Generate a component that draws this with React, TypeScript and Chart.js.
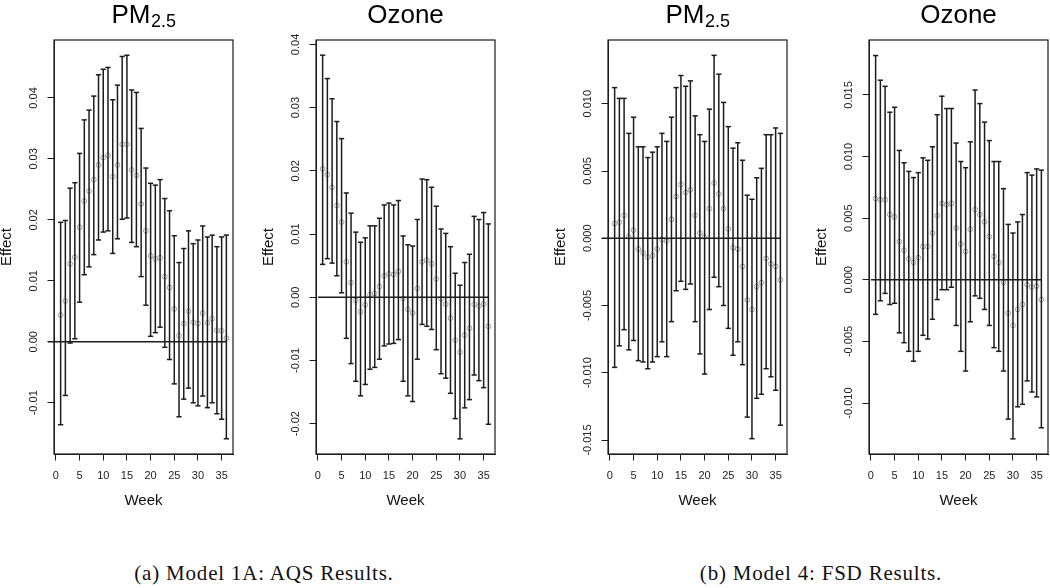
import React, { useEffect, useRef } from "react";
import { Chart, registerables } from "chart.js";

Chart.register(...registerables);

const WEEKS = [1, 2, 3, 4, 5, 6, 7, 8, 9, 10, 11, 12, 13, 14, 15, 16, 17, 18, 19, 20, 21, 22, 23, 24, 25, 26, 27, 28, 29, 30, 31, 32, 33, 34, 35, 36];
const X_TICKS = [0, 5, 10, 15, 20, 25, 30, 35];
const X_TICK_LABELS = ["0", "5", "10", "15", "20", "25", "30", "35"];

// (a) Model 1A: AQS — PM2.5
const AQS_PM_EST = [0.0044, 0.0067, 0.0128, 0.0139, 0.0188, 0.0231, 0.0247, 0.0266, 0.029, 0.0302, 0.0306, 0.0271, 0.029, 0.0324, 0.0324, 0.0282, 0.0273, 0.0226, 0.0182, 0.0141, 0.0136, 0.0138, 0.0107, 0.0089, 0.0054, 0.001, 0.003, 0.005, 0.0032, 0.003, 0.0047, 0.0031, 0.0038, 0.0019, 0.0018, 0.0006];
const AQS_PM_HI = [0.0196, 0.0199, 0.0252, 0.0261, 0.0309, 0.0364, 0.038, 0.0403, 0.0438, 0.0447, 0.045, 0.0397, 0.0421, 0.0468, 0.047, 0.0413, 0.0409, 0.035, 0.0285, 0.026, 0.0257, 0.0266, 0.0235, 0.0215, 0.0174, 0.013, 0.0153, 0.0182, 0.0161, 0.0167, 0.019, 0.0172, 0.0175, 0.0156, 0.0172, 0.0175];
const AQS_PM_LO = [-0.0136, -0.0088, -0.0002, 0.0005, 0.0065, 0.011, 0.0123, 0.0143, 0.0167, 0.018, 0.0182, 0.0145, 0.0169, 0.0201, 0.0203, 0.0163, 0.0156, 0.0107, 0.006, 0.0009, 0.0015, 0.0024, -0.0009, -0.0029, -0.0069, -0.0123, -0.0094, -0.0076, -0.01, -0.0105, -0.0089, -0.0108, -0.01, -0.0118, -0.0127, -0.0159];
const AQS_PM_YTICKS = [-0.01, 0, 0.01, 0.02, 0.03, 0.04];
const AQS_PM_YLABELS = ["-0.01", "0.00", "0.01", "0.02", "0.03", "0.04"];

// (a) Model 1A: AQS — Ozone
const AQS_OZ_EST = [0.0203, 0.0194, 0.0174, 0.0145, 0.0119, 0.0056, 0.0023, -0.0005, -0.0023, -0.0012, 0.0004, 0.0006, 0.0017, 0.0034, 0.0037, 0.0036, 0.0041, -0.0002, -0.0019, -0.0025, 0.0014, 0.0056, 0.0059, 0.0053, 0.0029, -0.0002, -0.0011, -0.0033, -0.0068, -0.0087, -0.006, -0.0049, -0.0011, -0.0014, -0.0011, -0.0046];
const AQS_OZ_HI = [0.0383, 0.0346, 0.0314, 0.0278, 0.0251, 0.0165, 0.0133, 0.0103, 0.0087, 0.0094, 0.0113, 0.0113, 0.0125, 0.0146, 0.0149, 0.0146, 0.0153, 0.0097, 0.0083, 0.0081, 0.0123, 0.0187, 0.0186, 0.0174, 0.0144, 0.0108, 0.0101, 0.008, 0.0038, 0.0019, 0.0055, 0.0068, 0.0128, 0.0123, 0.0134, 0.0116];
const AQS_OZ_LO = [0.0052, 0.0061, 0.0054, 0.0034, 0.0007, -0.0065, -0.0105, -0.0133, -0.0156, -0.0138, -0.0114, -0.0111, -0.0098, -0.0077, -0.0074, -0.0073, -0.0067, -0.0133, -0.0156, -0.0165, -0.0098, -0.0043, -0.0046, -0.0051, -0.0083, -0.0121, -0.0128, -0.0152, -0.0192, -0.0224, -0.0175, -0.0162, -0.0123, -0.0132, -0.0143, -0.0201];
const AQS_OZ_YTICKS = [-0.02, -0.01, 0, 0.01, 0.02, 0.03, 0.04];
const AQS_OZ_YLABELS = ["-0.02", "-0.01", "0.00", "0.01", "0.02", "0.03", "0.04"];

// (b) Model 4: FSD — PM2.5
const FSD_PM_EST = [0.0011, 0.0012, 0.0017, 0.0001, 0.0006, -0.0008, -0.0011, -0.0014, -0.0013, -0.0008, -0.0001, -0.0002, 0.0014, 0.0031, 0.004, 0.0034, 0.0036, 0.0017, 0.0004, 0.0001, 0.0022, 0.0041, 0.0033, 0.0022, 0.0007, -0.0007, -0.0008, -0.0021, -0.0046, -0.0053, -0.0036, -0.0033, -0.0015, -0.0019, -0.0021, -0.0031];
const FSD_PM_HI = [0.0112, 0.0104, 0.0104, 0.0078, 0.009, 0.0068, 0.0068, 0.006, 0.0064, 0.0068, 0.0078, 0.0072, 0.009, 0.0112, 0.0121, 0.0113, 0.0117, 0.0091, 0.0077, 0.0072, 0.0096, 0.0136, 0.0122, 0.0101, 0.0083, 0.0067, 0.0071, 0.0058, 0.0032, 0.0029, 0.0045, 0.0052, 0.0077, 0.0077, 0.0082, 0.0078];
const FSD_PM_LO = [-0.0096, -0.008, -0.0068, -0.0083, -0.0076, -0.0091, -0.0092, -0.0097, -0.0092, -0.0088, -0.0077, -0.0088, -0.0062, -0.0039, -0.0032, -0.0038, -0.0034, -0.0062, -0.0086, -0.0101, -0.0053, -0.0029, -0.0036, -0.005, -0.0067, -0.0087, -0.0077, -0.0094, -0.0133, -0.0149, -0.0119, -0.0116, -0.0097, -0.0103, -0.0113, -0.0139];
const FSD_PM_YTICKS = [-0.015, -0.01, -0.005, 0, 0.005, 0.01];
const FSD_PM_YLABELS = ["-0.015", "-0.010", "-0.005", "0.000", "0.005", "0.010"];

// (b) Model 4: FSD — Ozone
const FSD_OZ_EST = [0.0066, 0.0065, 0.0065, 0.0053, 0.0051, 0.0031, 0.0024, 0.0017, 0.0014, 0.0018, 0.0027, 0.0027, 0.0038, 0.0052, 0.0062, 0.0061, 0.0062, 0.0042, 0.0029, 0.0023, 0.0041, 0.0057, 0.0053, 0.0047, 0.0035, 0.0019, 0.0014, -0.0002, -0.0027, -0.0037, -0.0024, -0.002, -0.0004, -0.0006, -0.0005, -0.0016];
const FSD_OZ_HI = [0.0182, 0.0162, 0.0157, 0.0136, 0.014, 0.0105, 0.0095, 0.0088, 0.0083, 0.0087, 0.0099, 0.0097, 0.0108, 0.0134, 0.0149, 0.0139, 0.0139, 0.0111, 0.0096, 0.0091, 0.0112, 0.0154, 0.0143, 0.0128, 0.0113, 0.0096, 0.0096, 0.0074, 0.0045, 0.0038, 0.0047, 0.0053, 0.0087, 0.0085, 0.009, 0.0089];
const FSD_OZ_LO = [-0.0028, -0.0017, -0.0011, -0.002, -0.0019, -0.0043, -0.0051, -0.0058, -0.0066, -0.0058, -0.0045, -0.0048, -0.0032, -0.0016, -0.0008, -0.0008, -0.0006, -0.0037, -0.0058, -0.0074, -0.0034, -0.0013, -0.0015, -0.0024, -0.0037, -0.0055, -0.0058, -0.0074, -0.0113, -0.0129, -0.0103, -0.0101, -0.0082, -0.0091, -0.0095, -0.012];
const FSD_OZ_YTICKS = [-0.01, -0.005, 0, 0.005, 0.01, 0.015];
const FSD_OZ_YLABELS = ["-0.010", "-0.005", "0.000", "0.005", "0.010", "0.015"];

const CAPTIONS = ["(a) Model 1A: AQS Results.", "(b) Model 4: FSD Results."];

type PanelCfg = {
  left: number;
  title: string;
  sub: string;
  est: number[];
  lo: number[];
  hi: number[];
  yMin: number;
  yMax: number;
  yTicks: number[];
  yLabels: string[];
  zeroFrom: number;
};

const PANELS: PanelCfg[] = [
  { left: 54, title: "PM", sub: "2.5", est: AQS_PM_EST, lo: AQS_PM_LO, hi: AQS_PM_HI, yMin: -0.0184, yMax: 0.0495, yTicks: AQS_PM_YTICKS, yLabels: AQS_PM_YLABELS, zeroFrom: -1.7 },
  { left: 316, title: "Ozone", sub: "", est: AQS_OZ_EST, lo: AQS_OZ_LO, hi: AQS_OZ_HI, yMin: -0.0248, yMax: 0.0407, yTicks: AQS_OZ_YTICKS, yLabels: AQS_OZ_YLABELS, zeroFrom: 0 },
  { left: 608, title: "PM", sub: "2.5", est: FSD_PM_EST, lo: FSD_PM_LO, hi: FSD_PM_HI, yMin: -0.01604, yMax: 0.01474, yTicks: FSD_PM_YTICKS, yLabels: FSD_PM_YLABELS, zeroFrom: -1.7 },
  { left: 869, title: "Ozone", sub: "", est: FSD_OZ_EST, lo: FSD_OZ_LO, hi: FSD_OZ_HI, yMin: -0.01413, yMax: 0.01946, yTicks: FSD_OZ_YTICKS, yLabels: FSD_OZ_YLABELS, zeroFrom: 0 },
];

const SANS = '"Liberation Sans", Arial, Helvetica, sans-serif';
const INK = "#1c1c1c";
const Y_AXIS_W = 54;
const X_AXIS_H = 66;
const CANVAS_W = 238;
const CANVAS_H = 520;

function makeDecor(cfg: PanelCfg) {
  return {
    id: "rdecor",
    afterDraw(chart: any) {
      const { ctx, chartArea: a, scales } = chart;
      const xs = scales.x;
      const ys = scales.y;
      ctx.save();
      ctx.strokeStyle = INK;
      ctx.lineWidth = 1.2;
      ctx.strokeRect(a.left, a.top, a.right - a.left, a.bottom - a.top);

      ctx.fillStyle = "#222";
      ctx.font = `11px ${SANS}`;
      ctx.textAlign = "center";
      ctx.textBaseline = "alphabetic";
      X_TICKS.forEach((v, i) => {
        ctx.fillText(X_TICK_LABELS[i], xs.getPixelForValue(v), a.bottom + 24.5);
      });
      cfg.yTicks.forEach((v, i) => {
        const y = ys.getPixelForValue(v);
        ctx.save();
        ctx.translate(a.left - 20, y);
        ctx.rotate(-Math.PI / 2);
        ctx.textBaseline = "middle";
        ctx.fillText(cfg.yLabels[i], 0, 0);
        ctx.restore();
      });

      const midX = (a.left + a.right) / 2;
      const midY = (a.top + a.bottom) / 2;
      ctx.fillStyle = "#111";
      ctx.font = `15px ${SANS}`;
      ctx.fillText("Week", midX, a.bottom + 51);
      ctx.save();
      ctx.translate(a.left - 47, midY);
      ctx.rotate(-Math.PI / 2);
      ctx.textBaseline = "middle";
      ctx.fillText("Effect", 0, 0);
      ctx.restore();

      ctx.fillStyle = "#000";
      ctx.textAlign = "left";
      ctx.font = `26px ${SANS}`;
      const wMain = ctx.measureText(cfg.title).width;
      ctx.font = `18px ${SANS}`;
      const wSub = cfg.sub ? ctx.measureText(cfg.sub).width : 0;
      const x0 = midX - (wMain + wSub) / 2;
      ctx.font = `26px ${SANS}`;
      ctx.fillText(cfg.title, x0, 22.5);
      if (cfg.sub) {
        ctx.font = `18px ${SANS}`;
        ctx.fillText(cfg.sub, x0 + wMain + 0.5, 27);
      }
      ctx.restore();
    },
  };
}

function Panel({ cfg }: { cfg: PanelCfg }) {
  const ref = useRef<HTMLCanvasElement>(null);
  useEffect(() => {
    const canvas = ref.current;
    if (!canvas) return;
    const capStyle = {
      type: "scatter" as const,
      pointStyle: "line",
      pointRadius: 2.6,
      pointHoverRadius: 2.6,
      pointBorderColor: INK,
      pointBackgroundColor: INK,
      pointBorderWidth: 1.5,
      showLine: false,
      order: 1,
    };
    const chart = new Chart(canvas, {
      type: "scatter",
      data: {
        datasets: [
          {
            type: "line",
            data: [
              { x: cfg.zeroFrom, y: 0 },
              { x: 36, y: 0 },
            ],
            borderColor: INK,
            borderWidth: 1.5,
            pointRadius: 0,
            showLine: true,
            fill: false,
            clip: false,
            order: 0,
          } as any,
          {
            type: "bar",
            data: WEEKS.map((w, i) => ({ x: w, y: [cfg.lo[i], cfg.hi[i]] })),
            backgroundColor: INK,
            borderWidth: 0,
            barThickness: 1.5,
            inflateAmount: 0,
            order: 2,
          } as any,
          { ...capStyle, data: WEEKS.map((w, i) => ({ x: w, y: cfg.hi[i] })) } as any,
          { ...capStyle, data: WEEKS.map((w, i) => ({ x: w, y: cfg.lo[i] })) } as any,
          {
            type: "scatter",
            data: WEEKS.map((w, i) => ({ x: w, y: cfg.est[i] })),
            pointStyle: "circle",
            pointRadius: 2.4,
            pointBorderColor: "#a0a0a0",
            pointBackgroundColor: "rgba(0,0,0,0)",
            pointBorderWidth: 1,
            order: 5,
          } as any,
        ],
      },
      options: {
        responsive: false,
        animation: false,
        events: [],
        layout: { padding: { left: 0, right: 3, top: 40, bottom: 0 } },
        plugins: { legend: { display: false }, tooltip: { enabled: false }, title: { display: false } },
        scales: {
          x: {
            type: "linear",
            position: "bottom",
            min: -0.4,
            max: 37.4,
            offset: false,
            afterBuildTicks: (scale: any) => {
              scale.ticks = X_TICKS.map((v) => ({ value: v }));
            },
            afterFit: (scale: any) => {
              scale.height = X_AXIS_H;
            },
            ticks: { display: false },
            grid: { display: true, drawOnChartArea: false, drawTicks: true, tickLength: 6.5, color: INK, lineWidth: 1, offset: false },
            border: { display: true, color: INK, width: 1 },
          },
          y: {
            type: "linear",
            position: "left",
            min: cfg.yMin,
            max: cfg.yMax,
            afterBuildTicks: (scale: any) => {
              scale.ticks = cfg.yTicks.map((v) => ({ value: v }));
            },
            afterFit: (scale: any) => {
              scale.width = Y_AXIS_W;
            },
            ticks: { display: false },
            grid: { display: true, drawOnChartArea: false, drawTicks: true, tickLength: 6.5, color: INK, lineWidth: 1 },
            border: { display: true, color: INK, width: 1 },
          },
        },
      } as any,
      plugins: [makeDecor(cfg)],
    });
    return () => chart.destroy();
  }, [cfg]);
  return (
    <canvas
      ref={ref}
      width={CANVAS_W}
      height={CANVAS_H}
      style={{ position: "absolute", left: cfg.left - Y_AXIS_W, top: 0, width: CANVAS_W, height: CANVAS_H }}
    />
  );
}

const CAPTION_CENTERS = [264, 821];

export default function App() {
  return (
    <div style={{ position: "absolute", left: 0, top: 0, width: 1050, height: 588, overflow: "hidden", background: "#fff" }}>
      {PANELS.map((p, i) => (
        <Panel key={i} cfg={p} />
      ))}
      {CAPTIONS.map((c, i) => (
        <div
          key={c}
          style={{
            position: "absolute",
            left: CAPTION_CENTERS[i] - 200,
            width: 400,
            top: 563,
            textAlign: "center",
            fontFamily: '"Liberation Serif", "Times New Roman", serif',
            fontSize: 21,
            lineHeight: "21px",
            letterSpacing: "0.8px",
            color: "#111",
            whiteSpace: "nowrap",
          }}
        >
          {c}
        </div>
      ))}
    </div>
  );
}
